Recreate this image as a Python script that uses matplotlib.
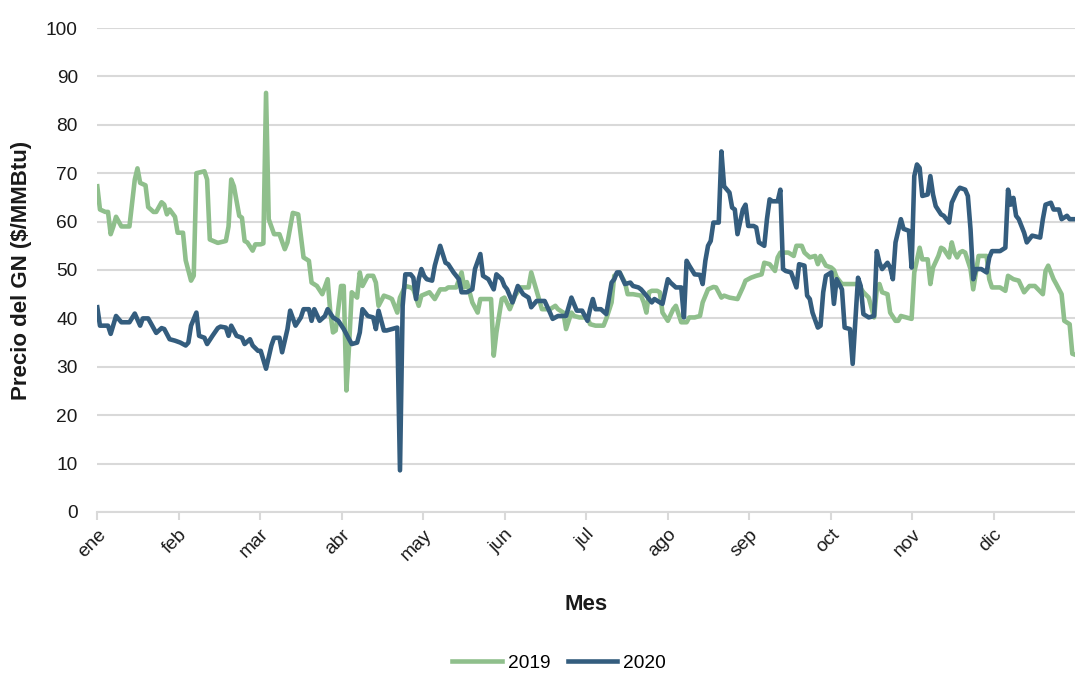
import numpy as np
import matplotlib.pyplot as plt
from matplotlib import font_manager

# =========================
# datos (día del año, precio $/MMBtu)
# =========================
meses = ["ene", "feb", "mar", "abr", "may", "jun", "jul", "ago", "sep", "oct", "nov", "dic"]

dia_2019 = [0, 1, 3, 4, 5, 6, 7, 9, 12, 14, 15, 16, 18, 19, 21, 22, 24, 25, 26, 27, 29, 30, 32, 33, 35, 36,
            37, 40, 41, 42, 45, 48, 49, 50, 51, 53, 54, 55, 56, 58, 59, 61, 62, 63, 64, 66, 68, 70, 71, 73,
            75, 77, 79, 80, 82, 84, 86, 87, 88, 89, 91, 92, 93, 94, 95, 97, 98, 99, 101, 103, 104, 105, 107,
            109, 110, 112, 113, 115, 117, 118, 120, 121, 124, 126, 128, 130, 131, 134, 136, 137, 138, 139, 140,
            142, 143, 147, 148, 149, 151, 152, 154, 156, 158, 161, 162, 164, 166, 167, 169, 171, 172, 174, 175,
            177, 178, 180, 182, 183, 184, 186, 189, 190, 192, 193, 195, 197, 198, 200, 203, 204, 205, 206, 207,
            209, 210, 211, 213, 215, 216, 218, 220, 221, 223, 225, 226, 228, 230, 231, 233, 234, 236, 239, 241,
            242, 244, 246, 248, 249, 251, 253, 254, 255, 258, 260, 261, 263, 264, 266, 268, 269, 270, 272, 274,
            275, 276, 278, 282, 284, 286, 288, 290, 291, 292, 293, 295, 296, 298, 299, 300, 302, 304, 305, 307,
            308, 310, 311, 312, 314, 315, 316, 318, 319, 320, 321, 322, 323, 324, 326, 327, 328, 329, 332, 333,
            334, 337, 339, 340, 342, 344, 346, 348, 350, 353, 354, 355, 357, 358, 360, 361, 363, 364, 365]
precio_2019 = [67.3, 62.5, 62, 62, 57.4, 59, 61, 59, 59, 68.7, 71, 68, 67.5, 63, 62, 62, 64, 63.5, 61.5, 62.5,
               61, 57.7, 57.7, 52, 47.8, 48.8, 70, 70.4, 68.7, 56.3, 55.6, 56, 59, 68.7, 67.3, 61.2, 60.8, 56,
               55.7, 54, 55.3, 55.3, 55.5, 86.6, 60.5, 57.4, 57.4, 54.3, 55.7, 61.8, 61.5, 52.6, 51.9, 47.4,
               46.7, 45, 48.1, 41.2, 37.1, 37.5, 46.7, 46.7, 25.1, 34.4, 45.4, 44.3, 49.5, 46.7, 48.8, 48.8,
               47.4, 42.6, 44.7, 44.3, 44, 41.2, 44.3, 46.7, 46.4, 46, 42.6, 44.7, 45.4, 44, 46, 46, 46.4, 46.4,
               49.5, 46.4, 47.5, 45.4, 43.3, 41.2, 44, 44, 32.3, 37.1, 44, 44.3, 41.9, 44.7, 46.4, 46.4, 49.5,
               45.7, 41.9, 41.9, 41.9, 42.6, 41.9, 41.2, 37.8, 41.2, 40.5, 40.2, 40.2, 40, 38.8, 38.5, 38.5,
               39.9, 43.3, 48.8, 49.5, 47.4, 45, 45, 44.7, 43.3, 41.2, 45.4, 45.7, 45.7, 45.4, 41.2, 39.5, 41.9,
               42.6, 39.2, 39.2, 40.2, 40.2, 40.5, 43.3, 46, 46.5, 46.4, 44.3, 44.7, 44.3, 44, 46.4, 47.8, 48.4,
               48.8, 49.1, 51.5, 51.2, 49.8, 52.6, 53.6, 53.6, 52.9, 55, 55, 53.6, 52.6, 52.9, 51.2, 52.9, 50.9,
               50.5, 50, 48.5, 47.1, 47.1, 47.1, 45.4, 44.3, 40.2, 46, 47.1, 45.4, 45, 41.2, 39.5, 39.5, 40.5,
               40.2, 39.9, 49.5, 54.6, 52.2, 52.2, 47.1, 50.5, 52.9, 54.6, 54.3, 52.6, 55.7, 53.6, 52.6, 53.6,
               53.9, 53.6, 50.2, 46, 49.5, 52.9, 52.9, 48.1, 46.4, 46.4, 45.7, 48.8, 48.1, 47.8, 45.4, 46.7, 46.7,
               45, 49.8, 50.9, 48.1, 47.1, 45, 39.5, 38.8, 32.7, 32.5]

dia_2020 = [0, 1, 4, 5, 7, 9, 12, 14, 16, 17, 19, 22, 24, 25, 27, 29, 31, 33, 34, 35, 37, 38, 40, 41, 43, 45,
            46, 48, 49, 50, 52, 54, 55, 57, 58, 60, 61, 63, 65, 66, 68, 69, 71, 72, 74, 76, 77, 79, 80, 81, 83,
            85, 86, 88, 90, 92, 94, 95, 97, 98, 99, 101, 103, 104, 105, 107, 108, 110, 112, 113, 114, 115, 117,
            118, 119, 120, 121, 122, 123, 125, 126, 128, 130, 131, 133, 135, 136, 138, 140, 141, 143, 144, 146,
            148, 149, 151, 152, 153, 155, 157, 159, 161, 162, 164, 167, 169, 170, 172, 175, 177, 179, 181, 183,
            184, 185, 186, 188, 190, 192, 193, 194, 195, 197, 199, 200, 202, 203, 205, 206, 207, 208, 210, 211,
            213, 214, 216, 218, 219, 220, 221, 223, 225, 226, 227, 228, 229, 230, 232, 233, 234, 236, 237, 238,
            239, 241, 242, 243, 245, 246, 247, 249, 250, 251, 252, 254, 255, 256, 257, 259, 261, 262, 264, 265,
            266, 267, 269, 270, 271, 272, 274, 275, 276, 278, 279, 281, 282, 284, 285, 286, 288, 290, 291, 292,
            293, 295, 296, 297, 298, 300, 301, 303, 304, 305, 306, 307, 308, 310, 311, 312, 313, 315, 316, 318,
            319, 321, 322, 324, 325, 326, 327, 328, 330, 332, 333, 334, 337, 339, 340, 341, 342, 343, 344, 346,
            347, 349, 352, 353, 354, 356, 357, 359, 360, 362, 363, 365]
precio_2020 = [42.3, 38.5, 38.5, 36.8, 40.5, 39.2, 39.2, 41, 38.5, 40, 40, 37, 38, 37.8, 35.7, 35.4, 35, 34.4,
               35, 38.5, 41.2, 36.4, 36, 34.7, 36.4, 38, 38.3, 38.1, 36.4, 38.5, 36.4, 36, 34.7, 35.7, 34.4,
               33.3, 33.3, 29.6, 34.4, 36, 36, 33, 37.8, 41.6, 38.5, 40.2, 41.9, 41.9, 39.5, 41.9, 39.5, 40.5,
               41.9, 40.2, 39.5, 37.8, 35.7, 34.7, 35, 37.1, 41.9, 40.5, 40.2, 37.8, 41.6, 37.5, 37.5, 37.8,
               38.1, 8.6, 42.6, 49.1, 49.1, 48.4, 44, 48.1, 50.2, 48.8, 48.1, 47.8, 50.9, 55, 51.5, 51.2, 49.5,
               48.1, 45.4, 45.4, 46, 50.2, 53.3, 48.8, 48.1, 46, 49.1, 48.1, 46.7, 46, 43.3, 46.7, 45, 44.3,
               42.3, 43.6, 43.6, 41.2, 39.9, 40.5, 40.5, 44.3, 41.6, 41.6, 39.5, 42, 44, 41.9, 41.9, 40.9, 47.4,
               48.1, 49.5, 49.5, 47.1, 47.4, 46.7, 46.4, 46, 44.7, 44, 43.3, 44, 43.3, 43, 48.1, 47.4, 46.4,
               46.4, 40.2, 51.9, 50.9, 49.1, 49, 47.1, 51.9, 55, 56, 59.8, 59.8, 74.5, 67.3, 66, 62.9, 62.5,
               57.4, 62.5, 63.5, 59.1, 59.1, 58.8, 55.7, 55, 60.5, 64.6, 64.2, 64.2, 66.6, 50.2, 49.8, 49.5,
               46.4, 51.2, 50.9, 44.7, 44, 41.2, 38.1, 38.5, 45.4, 48.8, 49.5, 43, 48.1, 46, 38.1, 37.8, 30.6,
               48.4, 46.7, 40.9, 40.2, 40.5, 53.9, 51.5, 50.2, 51.5, 50.5, 48.1, 55.7, 60.5, 58.5, 58.1, 50.5,
               69.4, 71.8, 71.1, 65.3, 65.6, 69.4, 65.6, 63.2, 61.5, 61.2, 59.8, 63.9, 66.3, 67, 66.6, 65.3,
               58.4, 48.1, 50.2, 50.2, 49.5, 52.6, 53.9, 53.9, 54.6, 66.6, 63.5, 64.9, 61.2, 60.5, 57.7, 55.7,
               57.1, 56.7, 60.5, 63.5, 63.9, 62.5, 62.5, 60.5, 61.2, 60.5, 60.5]

verde = "#8FBF8C"
azul = "#345D7E"
gris = "#D9D9D9"
texto = "#1A1A1A"

# =========================
# fuente (Arial Narrow si existe un equivalente)
# =========================
nombres = {f.name for f in font_manager.fontManager.ttflist}
if "Liberation Sans Narrow" in nombres:
    plt.rcParams["font.family"] = ["Liberation Sans Narrow", "DejaVu Sans"]
    fs, fs_b = 16.5, 19
else:
    plt.rcParams["font.family"] = ["Liberation Sans", "DejaVu Sans"]
    fs, fs_b = 13.8, 16

# =========================
# gráfico
# =========================
fig = plt.figure(figsize=(10.75, 6.75), dpi=100)
ax = fig.add_axes([0.0905, 0.2415, 0.9095, 0.717])

ax.plot(dia_2019, precio_2019, color=verde, lw=3.3, label="2019", solid_joinstyle="round", zorder=3)
ax.plot(dia_2020, precio_2020, color=azul, lw=3.3, label="2020", solid_joinstyle="round", zorder=4)

ax.set_xlim(0, 365)
ax.set_ylim(0, 100)
ax.set_yticks(np.arange(0, 101, 10))
ax.yaxis.grid(True, color=gris, lw=1.5)
ax.set_axisbelow(True)

ax.set_xticks(np.arange(12) * 365 / 12)
ax.set_xticklabels(meses, rotation=45, ha="right", rotation_mode="anchor")

for s in ["top", "right", "left"]:
    ax.spines[s].set_visible(False)
ax.spines["bottom"].set_color(gris)
ax.spines["bottom"].set_linewidth(1.5)
ax.tick_params(axis="x", colors=gris, length=6, width=1.5, labelcolor=texto, labelsize=fs, pad=4)
ax.tick_params(axis="y", length=0, labelcolor=texto, labelsize=fs, pad=14)

ax.set_ylabel("Precio del GN ($/MMBtu)", fontsize=fs_b, fontweight="bold", color=texto, labelpad=10)
ax.set_xlabel("Mes", fontsize=fs_b, fontweight="bold", color=texto, labelpad=22)

fig.legend(loc="center", bbox_to_anchor=(0.52, 0.018), ncol=2, frameon=False,
           fontsize=fs, handlelength=2.6, columnspacing=0.9, handletextpad=0.3, borderaxespad=0)

plt.savefig("out.png", dpi=100)
plt.close()
